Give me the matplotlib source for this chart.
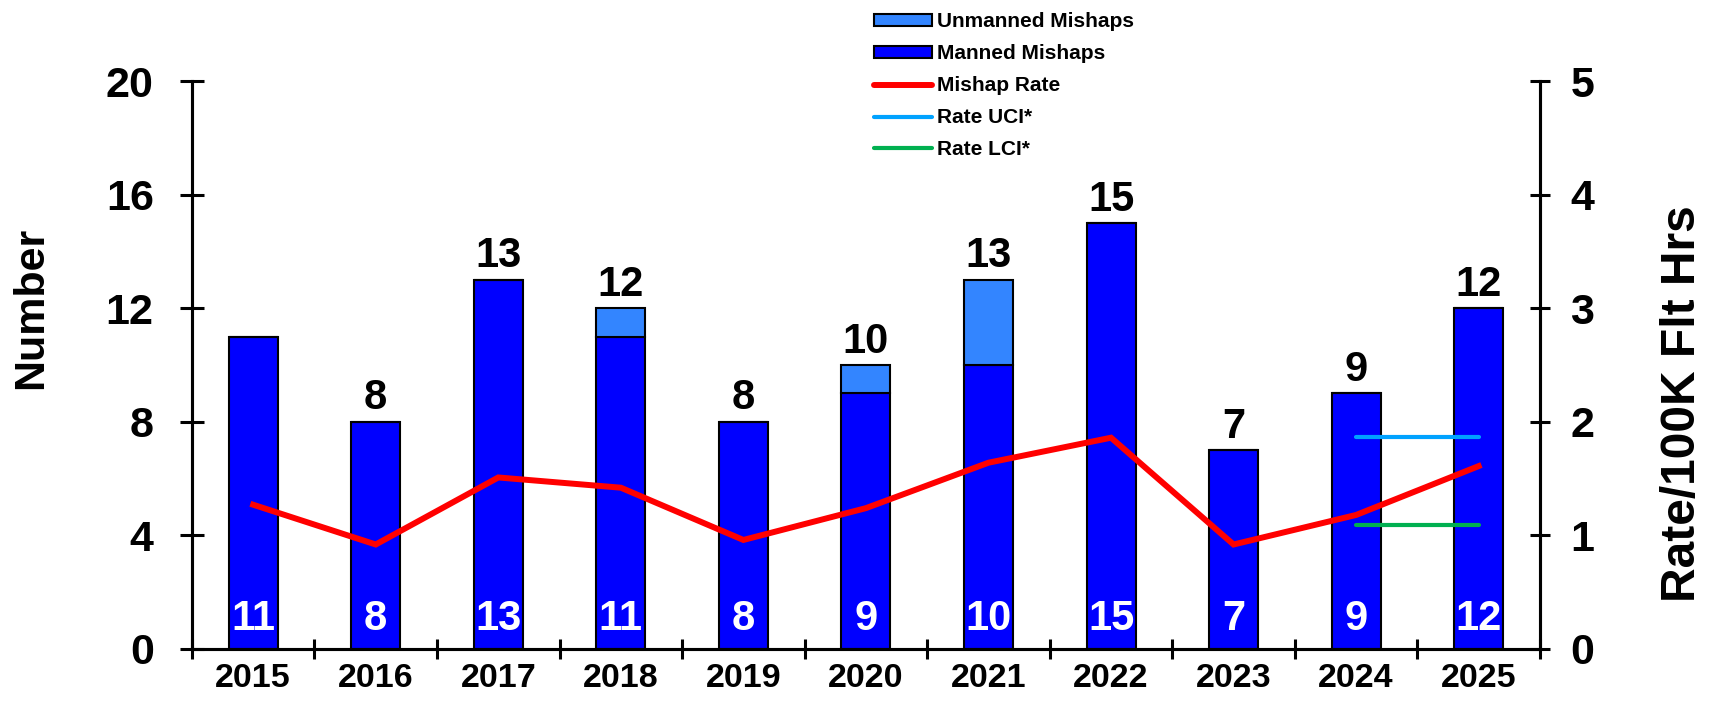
import matplotlib
matplotlib.use('Agg')
import matplotlib.pyplot as plt
from matplotlib.patches import Patch
from matplotlib.lines import Line2D

years = ['2015', '2016', '2017', '2018', '2019', '2020', '2021', '2022', '2023', '2024', '2025']
manned = [11, 8, 13, 11, 8, 9, 10, 15, 7, 9, 12]
unmanned = [0, 0, 0, 1, 0, 1, 3, 0, 0, 0, 0]
rate = [1.27, 0.92, 1.51, 1.42, 0.96, 1.24, 1.64, 1.86, 0.92, 1.18, 1.61]
ci_years = [9, 10]
rate_uci = [1.865, 1.865]
rate_lci = [1.09, 1.09]

plt.rcParams['font.family'] = ['Liberation Sans', 'DejaVu Sans']
plt.rcParams['font.weight'] = 'bold'

c_manned = '#0000FF'
c_unmanned = '#3385FF'
c_rate = '#FF0000'
c_uci = '#00A2FF'
c_lci = '#00B050'

fig = plt.figure(figsize=(17.12, 7.02), dpi=100)
ax = fig.add_axes([0.1121, 0.0755, 0.7874, 0.8091])
x = list(range(len(years)))
totals = [m + u for m, u in zip(manned, unmanned)]

ax.bar(x, manned, width=0.4, color=c_manned, edgecolor='black', linewidth=1.5, zorder=2)
ax.bar(x, unmanned, width=0.4, bottom=manned, color=c_unmanned, edgecolor='black', linewidth=1.5, zorder=2)

# white count inside the bar, total above it (none above 2015 in the original)
for i in x:
    ax.text(i, 1.05, str(manned[i]), color='white', ha='center', va='center',
            fontsize=30, fontweight='bold', zorder=4)
    if i > 0:
        ax.annotate(str(totals[i]), (i, totals[i]), xytext=(0, 9), textcoords='offset points',
                    ha='center', va='baseline', fontsize=30, fontweight='bold')

ax.set_xlim(-0.5, len(years) - 0.5)
ax.set_ylim(0, 20)
ax.set_yticks([0, 4, 8, 12, 16, 20])
ax.set_xticks([i - 0.5 for i in range(len(years) + 1)])
ax.set_xticklabels([])
ax.set_xticks(x, minor=True)
ax.set_xticklabels(years, minor=True)
ax.tick_params(axis='x', which='major', direction='inout', length=14, width=2.2)
ax.tick_params(axis='x', which='minor', length=0, pad=10, labelsize=24.5)
ax.tick_params(axis='y', direction='inout', length=17, width=2.2, pad=19, labelsize=31)
for s in ['left', 'bottom', 'right']:
    ax.spines[s].set_linewidth(2.2)
ax.spines['top'].set_visible(False)

ax2 = ax.twinx()
ax2.plot(x, rate, color=c_rate, linewidth=4.3, solid_joinstyle='miter', zorder=3)
ax2.plot(ci_years, rate_uci, color=c_uci, linewidth=3, solid_capstyle='round')
ax2.plot(ci_years, rate_lci, color=c_lci, linewidth=3, solid_capstyle='round')
ax2.set_ylim(0, 5)
ax2.set_yticks([0, 1, 2, 3, 4, 5])
ax2.tick_params(axis='y', direction='inout', length=14, width=2.2, pad=15, labelsize=31)
for s in ['left', 'bottom', 'right']:
    ax2.spines[s].set_linewidth(2.2)
ax2.spines['top'].set_visible(False)

fig.text(0.018, 0.562, 'Number', rotation=90, ha='center', va='center', fontsize=31, fontweight='bold')
fig.text(0.983, 0.425, 'Rate/100K Flt Hrs', rotation=90, ha='center', va='center', fontsize=34.5, fontweight='bold')

handles = [
    Patch(facecolor=c_unmanned, edgecolor='black', linewidth=1.5),
    Patch(facecolor=c_manned, edgecolor='black', linewidth=1.5),
    Line2D([], [], color=c_rate, linewidth=4.3, solid_capstyle='round'),
    Line2D([], [], color=c_uci, linewidth=3, solid_capstyle='round'),
    Line2D([], [], color=c_lci, linewidth=3, solid_capstyle='round'),
]
labels = ['Unmanned Mishaps', 'Manned Mishaps', 'Mishap Rate', 'Rate UCI*', 'Rate LCI*']
fig.legend(handles, labels, loc='upper left', bbox_to_anchor=(0.502, 1.003), frameon=False,
           fontsize=15, handlelength=2.8, handleheight=0.5, handletextpad=0.2,
           labelspacing=0.62, borderpad=0.2)

plt.savefig('out.png', dpi=100)
